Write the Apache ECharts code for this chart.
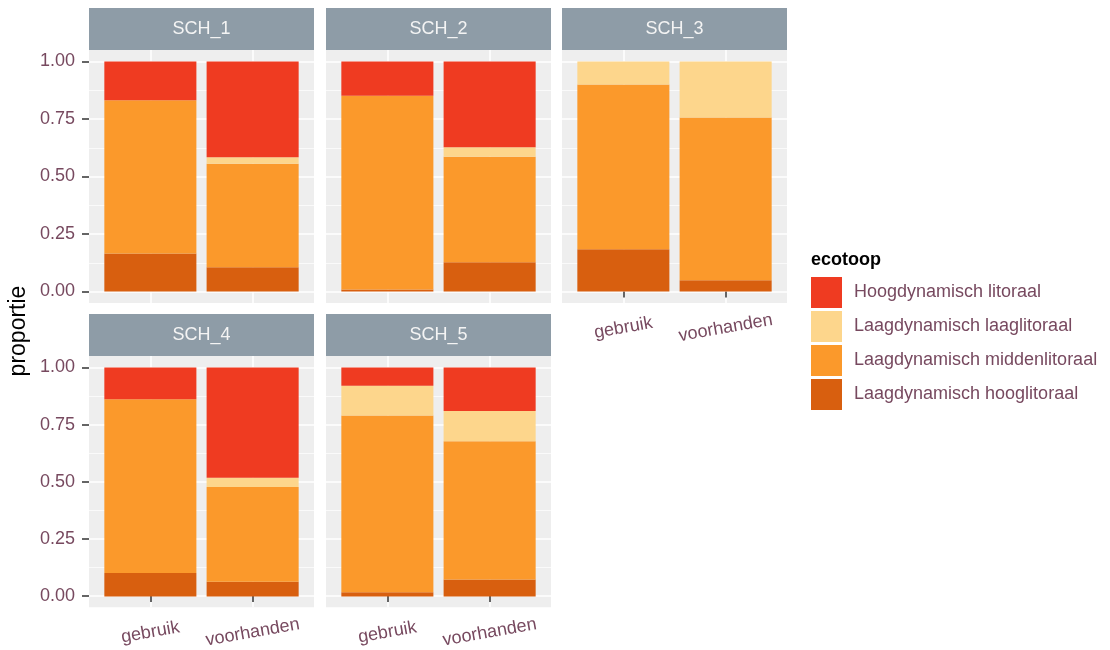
<!DOCTYPE html>
<html>
<head>
<meta charset="utf-8">
<script src="https://cdn.jsdelivr.net/npm/echarts@6/dist/echarts.min.js"></script>
<style>
  html, body { margin: 0; padding: 0; background: #ffffff; }
  #chart { width: 1110px; height: 650px; }
</style>
</head>
<body>
<div id="chart"></div>
<script>
// Facets, categories and ecotopes
const facets = ['SCH_1', 'SCH_2', 'SCH_3', 'SCH_4', 'SCH_5'];
const categories = ['gebruik', 'voorhanden'];
const ecotopes = [
  'Hoogdynamisch litoraal',
  'Laagdynamisch laaglitoraal',
  'Laagdynamisch middenlitoraal',
  'Laagdynamisch hooglitoraal'
];

// Proportions per facet: [gebruik, voorhanden]
const hoogdynamischLitoraal       = [[0.168, 0.416], [0.149, 0.373], [0.000, 0.000], [0.139, 0.481], [0.080, 0.190]];
const laagdynamischLaaglitoraal   = [[0.000, 0.029], [0.000, 0.041], [0.100, 0.243], [0.000, 0.041], [0.130, 0.132]];
const laagdynamischMiddenlitoraal = [[0.667, 0.450], [0.842, 0.459], [0.716, 0.708], [0.758, 0.413], [0.771, 0.604]];
const laagdynamischHooglitoraal   = [[0.165, 0.105], [0.009, 0.127], [0.184, 0.049], [0.103, 0.065], [0.019, 0.074]];

// Axis tick values
const yTicks = [0, 0.25, 0.5, 0.75, 1];
const yMinorTicks = [0.125, 0.375, 0.625, 0.875];
const xPositions = [1, 2];

const colors = {
  'Hoogdynamisch litoraal': '#EF3B21',
  'Laagdynamisch laaglitoraal': '#FDD68C',
  'Laagdynamisch middenlitoraal': '#FB992B',
  'Laagdynamisch hooglitoraal': '#D85F0F'
};

// Stacked bottom-to-top
const stackOrder = [
  ['Laagdynamisch hooglitoraal', laagdynamischHooglitoraal],
  ['Laagdynamisch middenlitoraal', laagdynamischMiddenlitoraal],
  ['Laagdynamisch laaglitoraal', laagdynamischLaaglitoraal],
  ['Hoogdynamisch litoraal', hoogdynamischLitoraal]
];

// Panel layout (facet_wrap, 3 columns)
const FONT = '"Liberation Sans", Arial, sans-serif';
const labelColor = '#77495f';
const stripH = 42;
const panelW = 225;
const Y_MIN = -0.05, Y_MAX = 1.05;           // 5% expansion around [0, 1]
const X_EXPAND = 0.6;                         // discrete expansion on each side
const bandW = panelW / (categories.length - 1 + 2 * X_EXPAND);
const panels = [
  { left: 89,  top: 50,  height: 253, yLab: true,  xLab: false },
  { left: 326, top: 50,  height: 253, yLab: false, xLab: false },
  { left: 562, top: 50,  height: 253, yLab: false, xLab: true  },
  { left: 89,  top: 356, height: 252, yLab: true,  xLab: true  },
  { left: 326, top: 356, height: 252, yLab: false, xLab: true  }
];

const grids = [], xAxes = [], yAxes = [], series = [], graphics = [];

panels.forEach((p, i) => {
  // frame grid: background, gridlines, ticks and labels
  const frame = grids.length;
  grids.push({
    left: p.left, top: p.top, width: panelW, height: p.height,
    show: true, backgroundColor: '#EEEEEE', borderWidth: 0
  });
  // bar grid: category bands inset by the discrete expansion
  const inner = grids.length;
  const inset = bandW * (X_EXPAND - 0.5);
  grids.push({
    left: p.left + inset, top: p.top, width: panelW - 2 * inset, height: p.height,
    show: false
  });

  xAxes.push({
    type: 'value', gridIndex: frame, min: 1 - X_EXPAND, max: categories.length + X_EXPAND,
    position: 'bottom',
    axisLine: { show: false },
    axisTick: { show: p.xLab, customValues: xPositions, length: 6, lineStyle: { color: '#333333', width: 1.5 } },
    axisLabel: {
      show: p.xLab, customValues: xPositions,
      formatter: v => categories[Math.round(v) - 1],
      rotate: 10, align: 'center', verticalAlign: 'middle', margin: 25,
      color: labelColor, fontSize: 18, fontFamily: FONT
    },
    splitLine: { show: true, lineStyle: { color: '#ffffff', width: 1.5 } }
  });
  const bx = xAxes.length;
  xAxes.push({
    type: 'category', gridIndex: inner, data: categories, boundaryGap: true,
    show: false
  });

  yAxes.push({
    type: 'value', gridIndex: frame, min: Y_MIN, max: Y_MAX, position: 'left',
    axisLine: { show: false },
    axisTick: { show: p.yLab, customValues: yTicks, length: 7, lineStyle: { color: '#333333', width: 1.5 } },
    axisLabel: {
      show: p.yLab, customValues: yTicks,
      formatter: v => v.toFixed(2), margin: 14,
      color: labelColor, fontSize: 18, fontFamily: FONT
    },
    splitLine: { show: true, lineStyle: { color: '#ffffff', width: 1.5 } }
  });
  yAxes.push({
    type: 'value', gridIndex: frame, min: Y_MIN, max: Y_MAX, position: 'left',
    axisLine: { show: false },
    axisTick: { show: false, customValues: yMinorTicks },
    axisLabel: { show: false },
    splitLine: { show: true, lineStyle: { color: '#ffffff', width: 0.7 } }
  });
  const by = yAxes.length;
  yAxes.push({
    type: 'value', gridIndex: inner, min: Y_MIN, max: Y_MAX, show: false,
    splitLine: { show: false }
  });

  stackOrder.forEach(([name, values]) => {
    series.push({
      type: 'bar', name: name, stack: 'facet' + i,
      xAxisIndex: bx, yAxisIndex: by,
      barWidth: '90%',
      itemStyle: { color: colors[name] },
      emphasis: { disabled: true },
      data: values[i]
    });
  });

  // facet strip
  graphics.push({
    type: 'rect', left: p.left, top: p.top - stripH,
    shape: { width: panelW, height: stripH },
    style: { fill: '#8E9CA7' }
  });
  graphics.push({
    type: 'text', x: p.left + panelW / 2, y: p.top - stripH / 2,
    style: {
      text: facets[i], fill: '#F4F4F4', font: '18px ' + FONT,
      textAlign: 'center', textVerticalAlign: 'middle'
    }
  });
});

// y-axis title
graphics.push({
  type: 'text', x: 19, y: 331, rotation: Math.PI / 2,
  style: {
    text: 'proportie', fill: '#000000', font: '23px ' + FONT,
    textAlign: 'center', textVerticalAlign: 'middle'
  }
});
// legend title
graphics.push({
  type: 'text', x: 811, y: 260,
  style: {
    text: 'ecotoop', fill: '#000000', font: 'bold 18px ' + FONT,
    textAlign: 'left', textVerticalAlign: 'middle'
  }
});

const chart = echarts.init(document.getElementById('chart'), null, { renderer: 'canvas' });
chart.setOption({
  animation: false,
  backgroundColor: '#ffffff',
  grid: grids,
  xAxis: xAxes,
  yAxis: yAxes,
  series: series,
  legend: {
    data: ecotopes,
    orient: 'vertical', left: 811, top: 277, padding: 0,
    itemWidth: 31, itemHeight: 31, itemGap: 3, icon: 'rect',
    selectedMode: false,
    textStyle: { color: labelColor, fontSize: 18, fontFamily: FONT, padding: [0, 0, 0, 7] }
  },
  graphic: graphics
});
</script>
</body>
</html>
